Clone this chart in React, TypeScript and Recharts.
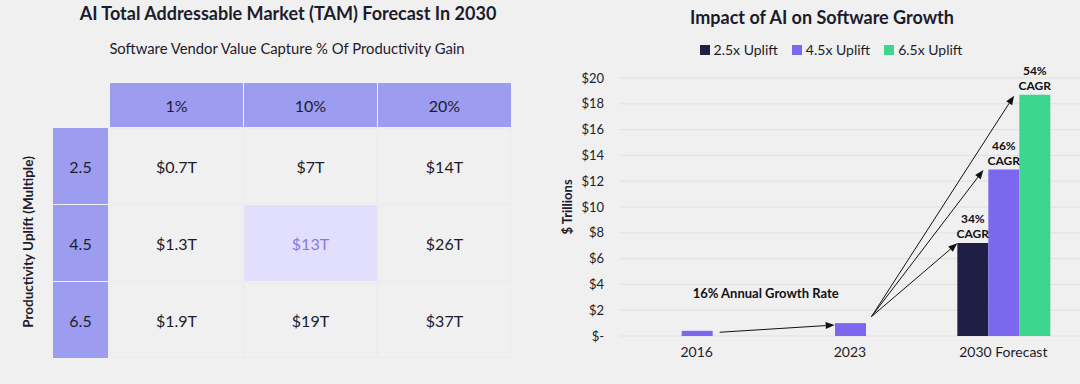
import React from 'react'
import {
  BarChart,
  Bar,
  XAxis,
  YAxis,
  CartesianGrid,
  Legend,
  LabelList,
  ReferenceLine,
  ReferenceDot,
} from 'recharts'

// left table
const captureCols = ['1%', '10%', '20%']
const upliftRows = ['2.5', '4.5', '6.5']
const tam25 = ['$0.7T', '$7T', '$14T']
const tam45 = ['$1.3T', '$13T', '$26T']
const tam65 = ['$1.9T', '$19T', '$37T']

// right chart
const years = ['2016', '2023', '2030 Forecast']
const uplift25 = [null, null, 7.2]
const uplift45 = [0.4, 1.0, 12.9]
const uplift65 = [null, null, 18.7]
const cagr25 = ['', '', '34%']
const cagr45 = ['', '', '46%']
const cagr65 = ['', '', '54%']
const yTicks = [0, 2, 4, 6, 8, 10, 12, 14, 16, 18, 20]

// arrows in annotation space (x: 0..3 across categories, y: $T)
const growthArrow = [{ x: 0.65, y: 0.29 }, { x: 1.4, y: 0.85 }]
const cagrArrows = [
  [{ x: 1.64, y: 1.5 }, { x: 2.2, y: 7.19 }],
  [{ x: 1.64, y: 1.5 }, { x: 2.37, y: 12.87 }],
  [{ x: 1.64, y: 1.5 }, { x: 2.57, y: 18.63 }],
]
const growthNote = { x: 0.95, y: 3.33, text: '16% Annual Growth Rate' }

const FONT = 'Lato, "Open Sans", sans-serif'
const BG = '#f0f0f0'
const INK = '#1c1c2c'
const DARK = '#1f1f45'
const PURPLE = '#7b68ee'
const GREEN = '#3dd68f'
const HEAD = '#9c9cf0'

const data = years.map((y, i) => ({
  year: y,
  slot: i + 0.5,
  u25: uplift25[i],
  u45: uplift45[i],
  u65: uplift65[i],
  c25: cagr25[i],
  c45: cagr45[i],
  c65: cagr65[i],
}))

const tamRows = [tam25, tam45, tam65]

const Arrow = (p: any) => {
  const { x1, y1, x2, y2 } = p
  const a = Math.atan2(y2 - y1, x2 - x1)
  const L = 9
  const W = 3.5
  const bx = x2 - L * Math.cos(a)
  const by = y2 - L * Math.sin(a)
  const px = -Math.sin(a) * W
  const py = Math.cos(a) * W
  return (
    <g>
      <line x1={x1} y1={y1} x2={bx} y2={by} stroke="#111" strokeWidth={1} />
      <polygon
        points={`${x2},${y2} ${bx + px},${by + py} ${bx - px},${by - py}`}
        fill="#111"
      />
    </g>
  )
}

const CagrLabel = (p: any) => {
  const { x, y, width, value } = p
  if (!value) return null
  const cx = x + width / 2
  return (
    <text textAnchor="middle" fontSize={12} fontWeight={700} fill="#111" fontFamily={FONT}>
      <tspan x={cx} y={y - 20}>{value}</tspan>
      <tspan x={cx} y={y - 5}>CAGR</tspan>
    </text>
  )
}

const LegendBox = (p: any) => {
  const items = p.payload || []
  return (
    <div style={{ display: 'flex', justifyContent: 'center', gap: 14, fontSize: 14, color: INK, fontFamily: FONT, paddingLeft: 42 }}>
      {items.map((it: any) => (
        <span key={it.value} style={{ display: 'flex', alignItems: 'center', gap: 4 }}>
          <span style={{ width: 10, height: 10, background: it.color, display: 'inline-block' }} />
          {it.value}
        </span>
      ))}
    </div>
  )
}

const YTitle = (p: any) => {
  const vb = p.viewBox
  const x = vb.x + 7
  const y = vb.y + vb.height / 2
  return (
    <text x={x} y={y} transform={`rotate(-90 ${x} ${y})`} textAnchor="middle" dominantBaseline="central" fontSize={13} fontWeight={700} fill={INK} fontFamily={FONT}>
      $ Trillions
    </text>
  )
}

function TamTable() {
  const colLeft = (i: number) => 110 + i * 134
  const rowTop = (i: number) => 128 + i * 77
  const cell: React.CSSProperties = {
    position: 'absolute',
    display: 'flex',
    alignItems: 'center',
    justifyContent: 'center',
    fontSize: 16,
    color: INK,
  }
  return (
    <>
      <div style={{ position: 'absolute', left: 0, top: 2, width: 576, textAlign: 'center', fontSize: 18, fontWeight: 700, color: INK, lineHeight: '22px' }}>
        AI Total Addressable Market (TAM) Forecast In 2030
      </div>
      <div style={{ position: 'absolute', left: 0, top: 39, width: 574, textAlign: 'center', fontSize: 14.8, color: INK, lineHeight: '18px' }}>
        Software Vendor Value Capture % Of Productivity Gain
      </div>
      {captureCols.map((c, i) => (
        <div key={c} style={{ ...cell, left: colLeft(i), top: 83, width: 133, height: 44, background: HEAD }}>
          {c}
        </div>
      ))}
      {upliftRows.map((r, i) => (
        <div key={r} style={{ ...cell, left: 53, top: rowTop(i), width: 55, height: 76, background: HEAD }}>
          {r}
        </div>
      ))}
      {tamRows.map((row, ri) =>
        row.map((v, ci) => {
          const hi = ri === 1 && ci === 1
          return (
            <div
              key={`${ri}-${ci}`}
              style={{
                ...cell,
                left: colLeft(ci),
                top: rowTop(ri),
                width: 133,
                height: 76,
                background: hi ? '#e2dffc' : 'transparent',
                color: hi ? '#8b78e6' : INK,
                boxSizing: 'border-box',
                border: hi ? 'none' : '1px solid #ebebeb',
              }}
            >
              {v}
            </div>
          )
        })
      )}
      <div
        style={{
          position: 'absolute',
          left: 28,
          top: 242,
          transform: 'translate(-50%, -50%) rotate(-90deg)',
          whiteSpace: 'nowrap',
          fontSize: 13.5,
          fontWeight: 700,
          color: INK,
        }}
      >
        Productivity Uplift (Multiple)
      </div>
    </>
  )
}

export default function App() {
  return (
    <div style={{ position: 'absolute', left: 0, top: 0, width: 1080, height: 384, background: BG, fontFamily: FONT, overflow: 'hidden' }}>
      <TamTable />
      <div style={{ position: 'absolute', left: 560, top: 6, width: 524, textAlign: 'center', fontSize: 18, fontWeight: 700, color: INK, lineHeight: '22px' }}>
        Impact of AI on Software Growth
      </div>
      <div style={{ position: 'absolute', left: 540, top: 0 }}>
        <BarChart width={540} height={384} data={data} margin={{ top: 78, right: 0, left: 20, bottom: 18 }} barGap={0} barCategoryGap="20%">
          <CartesianGrid vertical={false} stroke="#e0e0e0" />
          <XAxis dataKey="year" axisLine={false} tickLine={false} height={30} tickMargin={5} tick={{ fontSize: 14, fill: INK, fontFamily: FONT }} />
          <XAxis xAxisId="ann" dataKey="slot" type="number" domain={[0, 3]} allowDataOverflow hide />
          <YAxis
            domain={[0, 20]}
            ticks={yTicks}
            width={60}
            axisLine={false}
            tickLine={false}
            tickMargin={10}
            tick={{ fontSize: 13, fill: INK, fontFamily: FONT }}
            tickFormatter={(v: number) => (v === 0 ? '$-' : `$${v}`)}
            label={<YTitle />}
          />
          <Legend verticalAlign="middle" align="center" wrapperStyle={{ top: 41, left: 0, width: 540 }} content={<LegendBox />} />
          <Bar dataKey="u25" name="2.5x Uplift" fill={DARK} isAnimationActive={false}>
            <LabelList dataKey="c25" content={<CagrLabel />} />
          </Bar>
          <Bar dataKey="u45" name="4.5x Uplift" fill={PURPLE} isAnimationActive={false}>
            <LabelList dataKey="c45" content={<CagrLabel />} />
          </Bar>
          <Bar dataKey="u65" name="6.5x Uplift" fill={GREEN} isAnimationActive={false}>
            <LabelList dataKey="c65" content={<CagrLabel />} />
          </Bar>
          <ReferenceLine xAxisId="ann" segment={growthArrow} ifOverflow="visible" shape={<Arrow />} />
          {cagrArrows.map((seg, i) => (
            <ReferenceLine key={i} xAxisId="ann" segment={seg} ifOverflow="visible" shape={<Arrow />} />
          ))}
          <ReferenceDot
            xAxisId="ann"
            x={growthNote.x}
            y={growthNote.y}
            r={0}
            fill="none"
            stroke="none"
            ifOverflow="visible"
            label={{ value: growthNote.text, position: 'center', fontSize: 13, fontWeight: 700, fill: '#111', fontFamily: FONT }}
          />
        </BarChart>
      </div>
    </div>
  )
}
